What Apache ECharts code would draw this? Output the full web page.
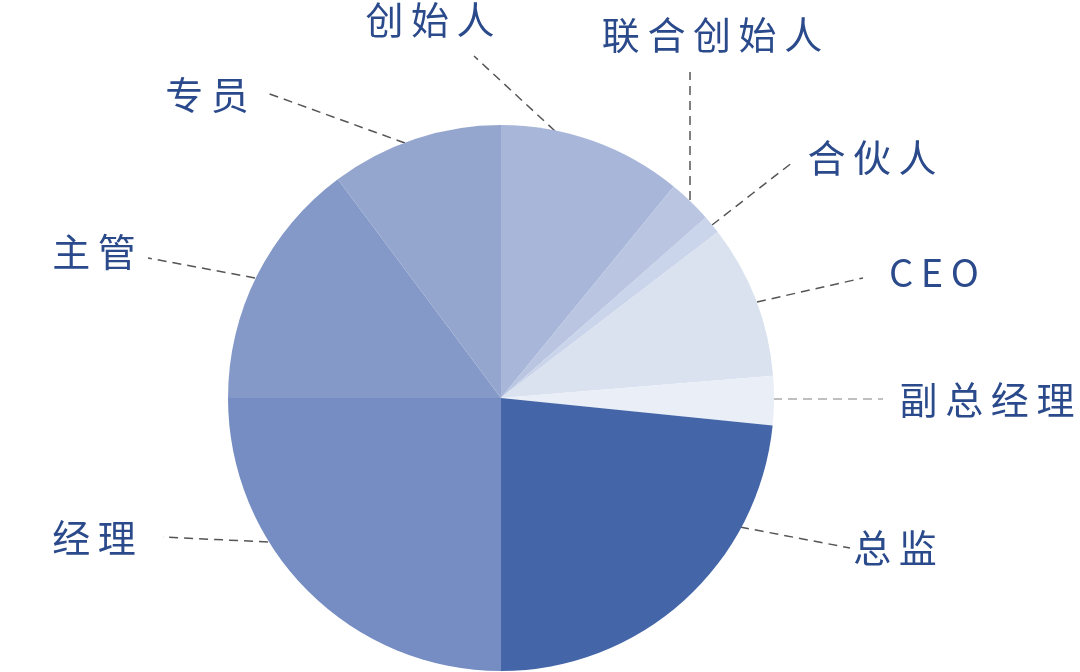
<!DOCTYPE html>
<html>
<head>
<meta charset="utf-8">
<script src="https://cdn.jsdelivr.net/npm/echarts@6/dist/echarts.min.js"></script>
<style>
html,body{margin:0;padding:0;background:#fff;}
#c{width:1080px;height:672px;}
</style>
</head>
<body>
<div id="c"></div>
<script>
// ---- data ----
var categories = ['创始人', '联合创始人', '合伙人', 'CEO', '副总经理', '总监', '经理', '主管', '专员'];
var shares = [10.9, 2.6, 1.1, 9.1, 2.9, 23.4, 25.0, 14.8, 10.2];

// ---- styling / layout (not data) ----
var sliceColors = ['#a8b6d9', '#b9c5e1', '#cad4ea', '#dae2f0', '#eaeef7', '#4466a9', '#758dc2', '#8499c8', '#94a6cd'];
var labelCenters = [[430, 20], [712, 35], [872, 158], [934, 273], [987, 400], [895, 548], [94, 538], [94, 252], [207, 95]];
var lineStarts = [[555, 131], [690, 200], [712, 225], [757, 302], [773, 399], [740, 527], [268, 542], [255, 278], [405, 143]];
var lineEnds = [[474, 56], [690, 72], [793, 162], [863, 278], [883, 399], [850, 548], [163, 537], [148, 258], [267, 93]];
var lineColors = ['#555', '#555', '#555', '#555', '#aaa', '#555', '#555', '#555', '#555'];

var chart = echarts.init(document.getElementById('c'), null, {renderer: 'canvas'});
var seriesData = categories.map(function (name, i) {
  return {
    name: name,
    value: shares[i],
    itemStyle: {color: sliceColors[i]},
    labelLine: {lineStyle: {color: lineColors[i]}}
  };
});

chart.setOption({
  animation: false,
  backgroundColor: '#ffffff',
  series: [{
    type: 'pie',
    center: [501, 398],
    radius: 273,
    startAngle: 90,
    clockwise: true,
    avoidLabelOverlap: false,
    itemStyle: {borderWidth: 0},
    label: {
      show: true,
      position: 'outside',
      color: '#2b4a8b',
      fontSize: 38,
      fontFamily: 'Noto Sans CJK SC',
      formatter: function (p) { return p.name.split('').join('\u2009'); }
    },
    labelLine: {
      show: true,
      lineStyle: {type: [9, 6], width: 1.5, color: '#555'}
    },
    labelLayout: function (params) {
      var i = params.dataIndex;
      var s = lineStarts[i], e = lineEnds[i];
      return {
        x: labelCenters[i][0],
        y: labelCenters[i][1],
        align: 'center',
        verticalAlign: 'middle',
        labelLinePoints: [s, [(s[0] + e[0]) / 2, (s[1] + e[1]) / 2], e]
      };
    },
    data: seriesData
  }]
});
</script>
</body>
</html>
